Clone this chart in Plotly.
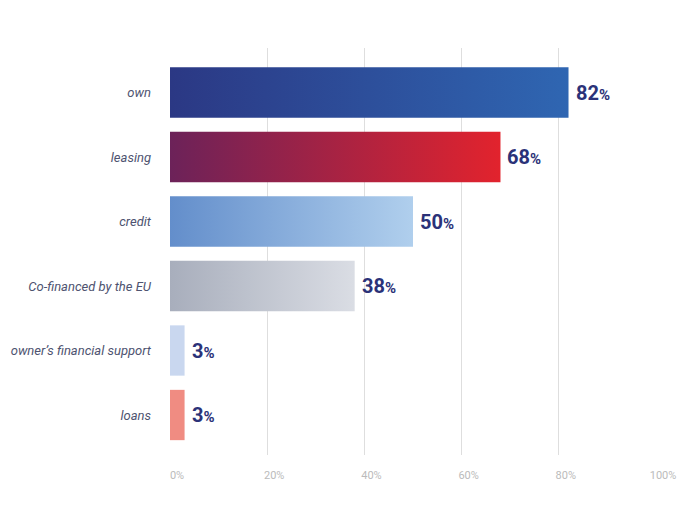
import plotly.graph_objects as go

categories = ["own", "leasing", "credit", "Co-financed by the EU",
              "owner’s financial support", "loans"]
values = [82, 68, 50, 38, 3, 3]
# left -> right colour of each bar's gradient
left_colors = ["#2B3884", "#6C2259", "#638ECB", "#A8AEBC", "#C9D7EF", "#F08C82"]
right_colors = ["#2F66B2", "#E2232D", "#B0CFED", "#DADDE4", "#C9D7EF", "#F08C82"]
x_ticks = [0, 20, 40, 60, 80, 100]
x_tick_labels = ["0%", "20%", "40%", "60%", "80%", "100%"]

HALF = 0.39  # half bar thickness in category units

fig = go.Figure()
for i, (cat, v) in enumerate(zip(categories, values)):
    fig.add_trace(go.Scatter(
        x=[0, v, v, 0, 0],
        y=[i - HALF, i - HALF, i + HALF, i + HALF, i - HALF],
        mode="lines", line=dict(width=0), fill="toself",
        fillgradient=dict(type="horizontal",
                          colorscale=[[0, left_colors[i]], [1, right_colors[i]]]),
        name=cat, hoverinfo="skip", showlegend=False,
    ))
    fig.add_annotation(
        x=v, y=i, xanchor="left", xshift=5, showarrow=False,
        text=f"<b>{v}</b><span style='font-size:15px'><b>%</b></span>",
        font=dict(family="Roboto", size=20, color="#2B3278"),
    )

# the page body adds an 8px offset, margins are compensated for it
fig.update_layout(
    width=696, height=524,
    margin=dict(l=162, r=48, t=40, b=77),
    paper_bgcolor="white", plot_bgcolor="white",
    xaxis=dict(range=[0, 100], tickvals=x_ticks, ticktext=x_tick_labels,
               showgrid=True, gridcolor="#DEDEDE", gridwidth=1, zeroline=False,
               showline=False, ticks="", ticklabelstandoff=12, ticklabelshift=7,
               tickfont=dict(family="Roboto", size=11, color="#BBBBBB"),
               automargin=False, fixedrange=True),
    yaxis=dict(range=[5.62, -0.69], tickvals=list(range(len(categories))),
               ticktext=categories, showgrid=False, zeroline=False,
               showline=False, ticks="", ticklabelstandoff=18,
               tickfont=dict(family="Roboto", size=13, color="#4E5370", style="italic"),
               automargin=False, fixedrange=True),
)

fig.write_html("out.html")
